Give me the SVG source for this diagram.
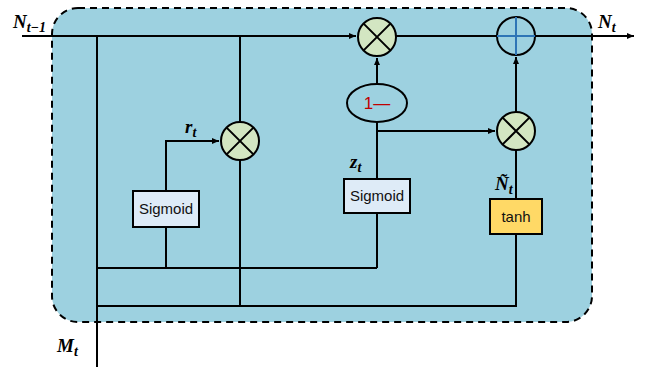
<svg xmlns="http://www.w3.org/2000/svg" width="647" height="367" viewBox="0 0 647 367">
<defs>
<marker id="ar" markerWidth="8" markerHeight="8" refX="7" refY="4" orient="auto" markerUnits="userSpaceOnUse">
<path d="M0,1 L7,4 L0,7 Z" fill="#000"/>
</marker>
<style>
.ln{stroke:#000;stroke-width:2;fill:none}
.mul{fill:#D3E6C2;stroke:#000;stroke-width:2}
.lbl{font-family:"Liberation Serif",serif;font-weight:bold;font-style:italic;fill:#000}
.box{stroke:#000;stroke-width:2}
.bt{font-family:"Liberation Sans",Arial,sans-serif;font-size:15px;fill:#111;text-anchor:middle}
</style>
</defs>
<rect width="647" height="367" fill="#fff"/>
<rect id="cell" x="52" y="8" width="540" height="314" rx="26" ry="26" fill="#9DD1E0" stroke="#000" stroke-width="2" stroke-dasharray="7,5"/>
<g id="connectors">
<line class="ln" x1="22" y1="36" x2="356" y2="36" marker-end="url(#ar)"/>
<line class="ln" x1="396" y1="36" x2="497" y2="36"/>
<line class="ln" x1="535" y1="36" x2="634" y2="36" marker-end="url(#ar)"/>
<line class="ln" x1="97" y1="36" x2="97" y2="367"/>
<line class="ln" x1="240" y1="36" x2="240" y2="122"/>
<line class="ln" x1="240" y1="160" x2="240" y2="306"/>
<polyline class="ln" points="166,191 166,141 219,141" marker-end="url(#ar)"/>
<line class="ln" x1="166" y1="227" x2="166" y2="268"/>
<line class="ln" x1="97" y1="268" x2="377" y2="268"/>
<line class="ln" x1="377" y1="213" x2="377" y2="268"/>
<line class="ln" x1="97" y1="306" x2="517" y2="306"/>
<line class="ln" x1="516" y1="234" x2="516" y2="307"/>
<line class="ln" x1="377" y1="122" x2="377" y2="179"/>
<line class="ln" x1="377" y1="131" x2="495" y2="131" marker-end="url(#ar)"/>
<line class="ln" x1="377" y1="84" x2="377" y2="58" marker-end="url(#ar)"/>
<line class="ln" x1="516" y1="199" x2="516" y2="150"/>
<line class="ln" x1="516" y1="112" x2="516" y2="57" marker-end="url(#ar)"/>
</g>
<g id="mul_top">
<circle class="mul" cx="377" cy="37" r="19"/>
<path class="ln" d="M363.6,23.6 L390.4,50.4 M390.4,23.6 L363.6,50.4"/>
</g>
<g id="plus">
<circle cx="516" cy="36" r="19" fill="#9DD1E0" stroke="#000" stroke-width="2"/>
<path d="M497,36 L535,36 M516,17 L516,55" stroke="#2E75B6" stroke-width="2"/>
</g>
<g id="mul_reset">
<circle class="mul" cx="240" cy="141" r="19"/>
<path class="ln" d="M226.6,127.6 L253.4,154.4 M253.4,127.6 L226.6,154.4"/>
</g>
<g id="mul_update">
<circle class="mul" cx="516" cy="131" r="19"/>
<path class="ln" d="M502.6,117.6 L529.4,144.4 M529.4,117.6 L502.6,144.4"/>
</g>
<g id="one_minus">
<ellipse cx="377" cy="103" rx="30" ry="19" fill="#9DD1E0" stroke="#000" stroke-width="2"/>
<text x="377" y="109" font-family="Liberation Sans,Arial,sans-serif" font-size="17" fill="#C00000" text-anchor="middle">1—</text>
</g>
<g id="sigmoid_r">
<rect class="box" x="133" y="191" width="66" height="36" fill="#DEEBF7"/>
<text class="bt" x="166" y="214">Sigmoid</text>
</g>
<g id="sigmoid_z">
<rect class="box" x="344" y="179" width="66" height="34" fill="#DEEBF7"/>
<text class="bt" x="377" y="201">Sigmoid</text>
</g>
<g id="tanh">
<rect class="box" x="490" y="199" width="52" height="35" fill="#FFD966"/>
<text class="bt" x="516" y="222">tanh</text>
</g>
<g id="labels">
<text class="lbl" x="13" y="28" font-size="19">N<tspan font-size="14" dy="4">t−1</tspan></text>
<text class="lbl" x="598" y="28" font-size="19">N<tspan font-size="14" dy="4">t</tspan></text>
<text class="lbl" x="57" y="352" font-size="19">M<tspan font-size="14" dy="4">t</tspan></text>
<text class="lbl" x="185" y="133" font-size="19">r<tspan font-size="14" dy="4">t</tspan></text>
<text class="lbl" x="350" y="168" font-size="19">z<tspan font-size="14" dy="4">t</tspan></text>
<text class="lbl" x="495" y="190" font-size="19">Ñ<tspan font-size="14" dy="4">t</tspan></text>
</g>
</svg>
